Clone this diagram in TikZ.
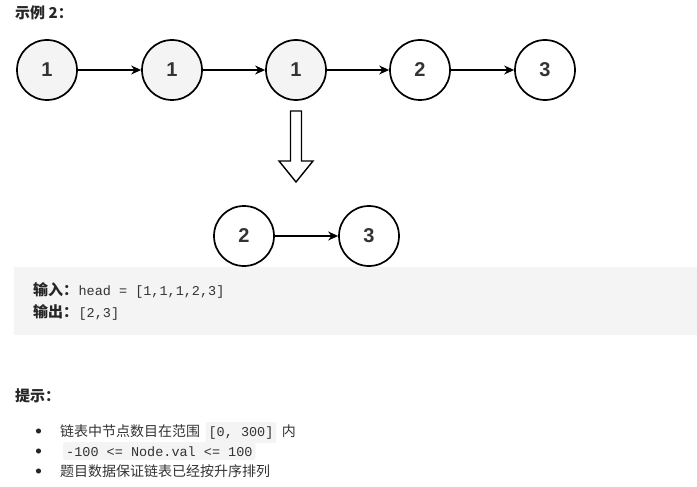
\documentclass[tikz,border=0pt]{standalone}
\usepackage{fontspec}
\setmainfont{Liberation Sans}
\setmonofont{Liberation Mono}
\newfontfamily\cjk{Noto Sans CJK SC}
\usetikzlibrary{positioning,arrows.meta}
\definecolor{boxgray}{HTML}{F4F4F4}
\definecolor{nodegray}{HTML}{F4F4F4}
\definecolor{inkgray}{HTML}{333333}
\begin{document}
\begin{tikzpicture}[
    x=1pt, y=-1pt,
    listnode/.style={circle, draw=black, line width=1.7pt, minimum size=60pt, inner sep=0pt,
                     font=\fontsize{20}{20}\selectfont\bfseries, text=inkgray},
    oldnode/.style={listnode, fill=nodegray},
    link/.style={-{Stealth[length=10pt,width=9pt]}, line width=1.4pt},
    txt/.style={anchor=base west, inner sep=0pt, font=\cjk\fontsize{14}{15}\selectfont, text=inkgray},
    bold/.style={txt, font=\cjk\fontsize{15}{16}\selectfont\bfseries, text=black!85},
    code/.style={anchor=base west, inner sep=0pt, font=\ttfamily\fontsize{13.5}{15}\selectfont, text=black!80},
    codebg/.style={code, fill=boxgray, inner xsep=3pt, inner ysep=4pt, rounded corners=2pt}
]
    \useasboundingbox (0,0) rectangle (697,487);

    \node[bold] (title) at (15,19) {示例 2：};

    % input list
    \node[oldnode] (n1) at (47,70) {1};
    \node[oldnode] (n2) at (172,70) {1};
    \node[oldnode] (n3) at (296,70) {1};
    \node[listnode] (n4) at (420,70) {2};
    \node[listnode] (n5) at (545,70) {3};
    \foreach \a/\b in {n1/n2, n2/n3, n3/n4, n4/n5}
        \draw[link] (\a) -- (\b);

    % hollow arrow
    \draw[line width=1.4pt, line join=miter] (290.5,111) -- (301.5,111) -- (301.5,161) -- (313,161)
        -- (296,182) -- (279,161) -- (290.5,161) -- cycle;

    % output list
    \node[listnode] (m1) at (244,236) {2};
    \node[listnode] (m2) at (369,236) {3};
    \draw[link] (m1) -- (m2);

    % example box
    \fill[boxgray] (14,267) rectangle (697,335);
    \node[bold] (inlbl) at (33,295) {输入：};
    \node[code] (inval) at (inlbl.base east) {head = [1,1,1,2,3]};
    \node[bold] (outlbl) at (33,317) {输出：};
    \node[code] (outval) at (outlbl.base east) {[2,3]};

    % hints
    \node[bold] (hint) at (15,401) {提示：};
    \foreach \y in {431,451,471}
        \fill[black!85] (38.5,\y) circle (2.6pt);
    \node[txt] (h1a) at (60,436) {链表中节点数目在范围};
    \node[codebg, anchor=base west] (h1b) at ([xshift=5pt]h1a.base east) {[0, 300]};
    \node[txt] (h1c) at ([xshift=5pt]h1b.base east) {内};
    \node[codebg] (h2) at (63,456) {-100 <= Node.val <= 100};
    \node[txt] (h3) at (60,476) {题目数据保证链表已经按升序排列};
\end{tikzpicture}
\end{document}
